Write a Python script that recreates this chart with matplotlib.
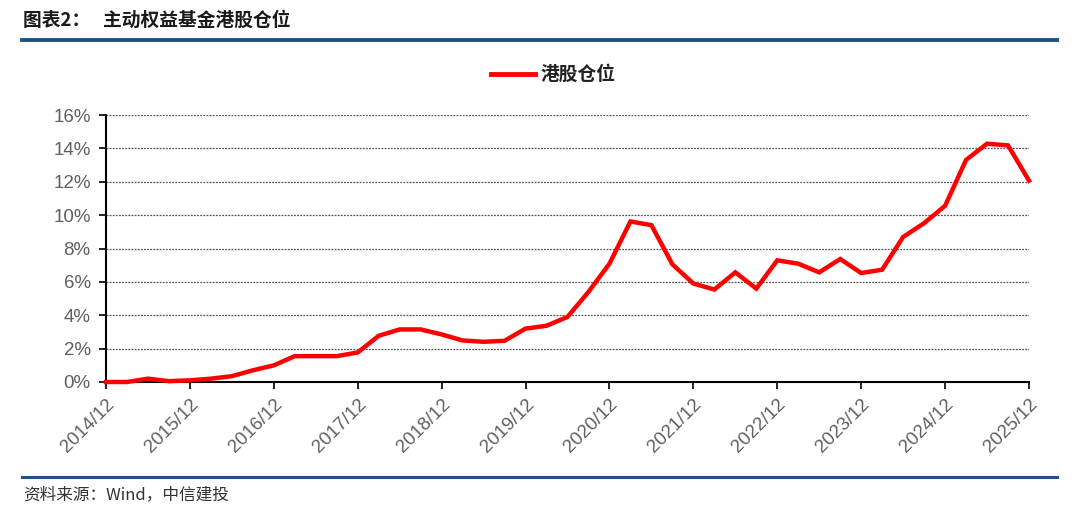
import numpy as np
import matplotlib.pyplot as plt
from matplotlib.lines import Line2D

plt.rcParams['font.family'] = ['Liberation Sans', 'Noto Sans CJK SC', 'DejaVu Sans']

# quarterly hk stock position of active equity funds, 2014/12 .. 2025/12 (%)
quarters = np.arange(45)
position = [0.0, 0.0, 0.2, 0.05, 0.1, 0.2, 0.35, 0.7, 1.0,
            1.55, 1.55, 1.55, 1.77, 2.77, 3.15, 3.15, 2.85,
            2.49, 2.41, 2.47, 3.2, 3.37, 3.9, 5.4, 7.09,
            9.62, 9.40, 7.05, 5.9, 5.54, 6.57, 5.6, 7.29,
            7.09, 6.57, 7.37, 6.53, 6.73, 8.69, 9.52, 10.56,
            13.31, 14.28, 14.18, 12.07]
year_labels = ['%d/12' % y for y in range(2014, 2026)]
y_ticks = list(range(0, 17, 2))

title = '图表2：   主动权益基金港股仓位'
source = '资料来源：Wind，中信建投'
series_name = '港股仓位'

W, H = 1080, 519
fig = plt.figure(figsize=(W / 100, H / 100), dpi=100)
ax = fig.add_axes([106 / W, 137 / H, 923 / W, 267 / H])

ax.plot(quarters, position, color='#ff0000', lw=3.2, solid_joinstyle='miter', clip_on=False, zorder=3)

ax.set_xlim(0, 44)
ax.set_ylim(0, 16)
ax.set_xticks(quarters[::4])
ax.set_xticklabels(year_labels, rotation=45, ha='right', va='top', rotation_mode='anchor')
ax.set_yticks(y_ticks)
ax.set_yticklabels(['%d%%' % v for v in y_ticks])
ax.tick_params(colors='black', labelcolor='#606060', labelsize=13.5, length=5, width=1.2)
ax.tick_params(axis='x', pad=5)
ax.tick_params(axis='y', pad=6)
ax.grid(axis='y', color='#555555', ls=(0, (1.5, 1)), lw=0.9)
for s in ('top', 'right'):
    ax.spines[s].set_visible(False)
for s in ('left', 'bottom'):
    ax.spines[s].set_linewidth(1.5)

# legend
fig.lines.append(Line2D([491 / W, 535 / W], [1 - 74 / H] * 2, color='#ff0000', lw=3.5, transform=fig.transFigure))
fig.text(540 / W, 1 - 74 / H, series_name, fontsize=13.5, fontweight='bold', color='#222222',
         va='center', ha='left', family=['Noto Sans CJK SC'])

# header / footer
fig.text(23 / W, 1 - 20 / H, title, fontsize=13.5, fontweight='bold', color='#1a1a1a',
         va='center', ha='left', family=['Noto Sans CJK SC'])
fig.lines.append(Line2D([22 / W, 1057 / W], [1 - 40 / H] * 2, color='#1f5385', lw=2.8, transform=fig.transFigure))
fig.lines.append(Line2D([22 / W, 1057 / W], [1 - 477 / H] * 2, color='#1f5385', lw=2.2, transform=fig.transFigure))
fig.text(23 / W, 1 - 495 / H, source, fontsize=12, style='italic', color='#333333',
         va='center', ha='left', family=['Noto Sans CJK SC'])

fig.savefig('out.png', dpi=100)
